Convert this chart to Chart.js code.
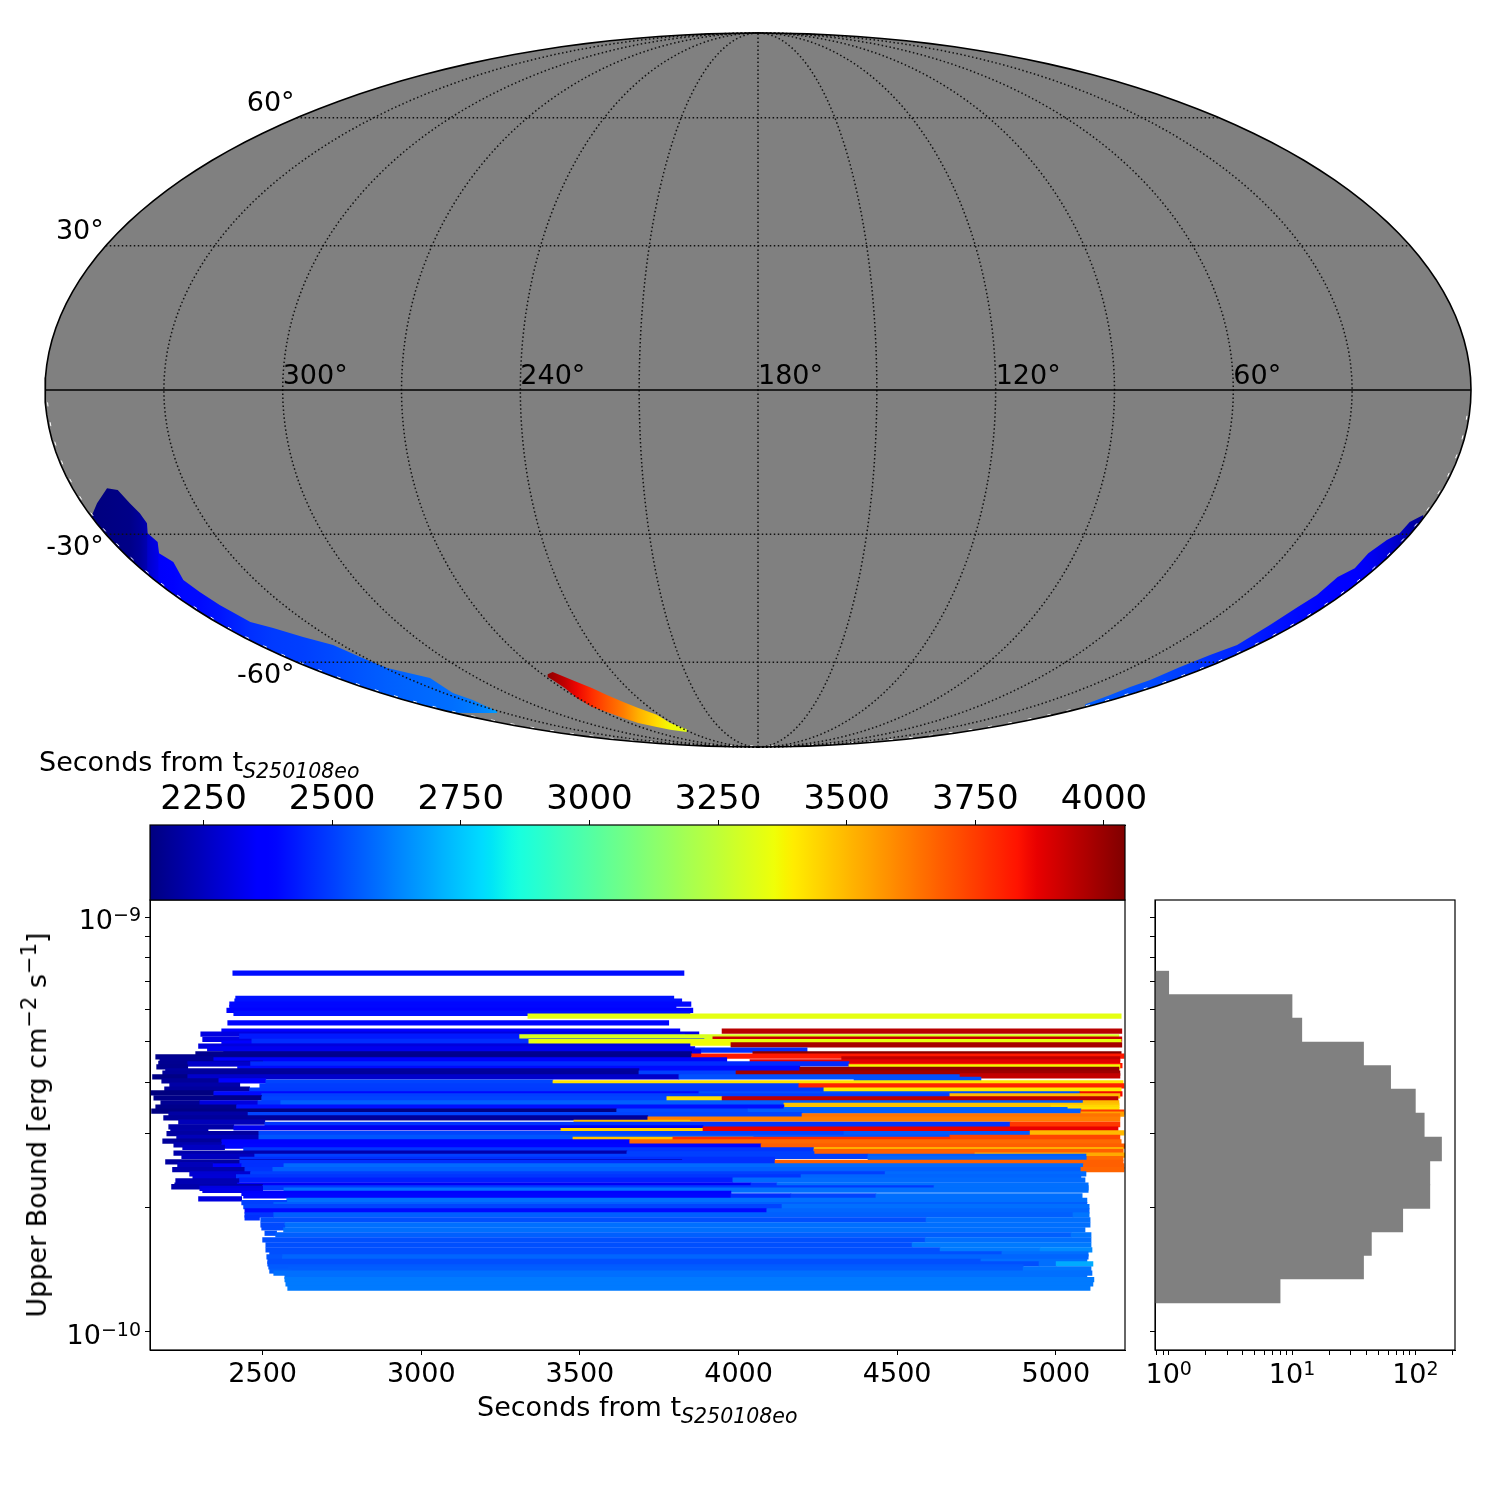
<!DOCTYPE html>
<html>
<head>
<meta charset="utf-8">
<title>S250108eo upper bounds</title>
<script src="https://cdn.jsdelivr.net/npm/chart.js@4"></script>
<style>
    html, body { margin: 0; background: #fff; }
    canvas { position: absolute; left: 0; top: 0; }
    .axis-title { position: absolute; font: 27px "DejaVu Sans"; white-space: nowrap; color: #000; line-height: 32px; }
    .axis-title i { font-size: 20.5px; position: relative; top: 7px; }
    .axis-title sup { font-size: 21px; line-height: 0; vertical-align: baseline; position: relative; top: -10px; }
</style>
</head>
<body>
<canvas id="mapChart" width="1500" height="1500"></canvas>
<canvas id="mainChart" width="1500" height="1500"></canvas>
<canvas id="barChart" width="1500" height="1500"></canvas>
<canvas id="histChart" width="1500" height="1500"></canvas>
<div class="axis-title" style="left:39px;top:746px">Seconds from t<i>S250108eo</i></div>
<div class="axis-title" style="left:477px;top:1391px">Seconds from t<i>S250108eo</i></div>
<div class="axis-title" style="left:37px;top:1125px;transform:translate(-50%,-50%) rotate(-90deg)">Upper Bound [erg cm<sup>&minus;2</sup> s<sup>&minus;1</sup>]</div>
<script>
// upper limit per tile, log10(erg cm-2 s-1), with start/end seconds and the time that picks its colour
const logUpper = [
    -9.135, -9.196, -9.203, -9.210, -9.218, -9.225, -9.232, -9.239, -9.255, -9.275,
    -9.275, -9.282, -9.295, -9.287, -9.289, -9.294, -9.304, -9.299, -9.300, -9.304,
    -9.308, -9.311, -9.318, -9.321, -9.325, -9.330, -9.330, -9.335, -9.337, -9.342,
    -9.342, -9.344, -9.349, -9.353, -9.354, -9.354, -9.358, -9.361, -9.361, -9.365,
    -9.367, -9.371, -9.376, -9.376, -9.376, -9.385, -9.385, -9.385, -9.383, -9.391,
    -9.395, -9.395, -9.398, -9.400, -9.405, -9.407, -9.407, -9.415, -9.417, -9.417,
    -9.424, -9.426, -9.426, -9.426, -9.431, -9.431, -9.436, -9.438, -9.438, -9.438, -9.448,
    -9.448, -9.448, -9.448, -9.448, -9.454, -9.458, -9.458, -9.459, -9.464, -9.464,
    -9.468, -9.468, -9.468, -9.470, -9.475, -9.475, -9.476, -9.479, -9.484, -9.487,
    -9.494, -9.495, -9.500, -9.500, -9.506, -9.508, -9.515, -9.511, -9.517, -9.522,
    -9.522, -9.522, -9.520, -9.531, -9.531, -9.531, -9.536, -9.536, -9.540, -9.542,
    -9.542, -9.549, -9.552, -9.552, -9.555, -9.561, -9.561, -9.565, -9.569, -9.571,
    -9.574, -9.577, -9.577, -9.577, -9.582, -9.582, -9.584, -9.590, -9.591, -9.591,
    -9.597, -9.600, -9.600, -9.600, -9.600, -9.609, -9.609, -9.609, -9.609, -9.619,
    -9.619, -9.619, -9.626, -9.626, -9.626, -9.634, -9.634, -9.636, -9.646, -9.646,
    -9.646, -9.646, -9.650, -9.653, -9.653, -9.654, -9.658, -9.659, -9.666, -9.672,
    -9.672, -9.672, -9.672, -9.679, -9.683, -9.688, -9.693, -9.698, -9.698, -9.708,
    -9.708, -9.718, -9.718, -9.718, -9.725, -9.730, -9.730, -9.742, -9.742, -9.749,
    -9.754, -9.762, -9.766, -9.766, -9.778, -9.778, -9.790, -9.790, -9.802, -9.802,
    -9.802, -9.812, -9.812, -9.819, -9.819, -9.830, -9.830, -9.836, -9.836, -9.836,
    -9.843, -9.848, -9.848, -9.853, -9.858, -9.866, -9.874, -9.884, -9.894
];
const startTimes = [
    2406, 2415, 2412, 2396, 2396, 2387, 2409, 3336, 2390, 2371,
    3948, 2305, 2311, 2427, 3310, 3919, 2371, 2466, 3339, 3364,
    3976, 2298, 2326, 3862, 2377, 2289, 4045, 3852, 2163, 2176,
    4325, 2346, 4036, 2172, 2264, 2462, 4348, 2166, 4348, 2421,
    4193, 2194, 2185, 3686, 3992, 2153, 2264, 3812, 4698, 4364,
    2182, 2362, 2510, 3415, 2207, 2491, 4190, 2191, 2459, 4269,
    2144, 2346, 3875, 5076, 2497, 4666, 2157, 2497, 3774, 3948, 2179,
    2302, 2485, 2557, 5086, 4143, 2163, 2418, 4985, 4143, 5038,
    2150, 3616, 4030, 5079, 5079, 2204, 2454, 4200, 2188, 3714,
    2235, 3481, 2507, 4856, 2204, 2409, 3440, 3888, 2210, 2198,
    2488, 4332, 4919, 2229, 2488, 4666, 3478, 3793, 2185, 2371,
    3657, 2220, 2371, 4071, 2248, 2440, 4238, 4238, 2220, 3648,
    4745, 2245, 2475, 4408, 4408, 5098, 2428, 2194, 2428, 4115,
    2232, 2344, 2434, 2567, 5087, 2216, 2444, 2532, 5079, 2270,
    2462, 4462, 2280, 2417, 4197, 2425, 3982, 2226, 2223, 2421,
    4039, 4121, 2213, 2500, 4616, 2302, 2567, 2311, 2434, 2440,
    3976, 4165, 4433, 2298, 2576, 2434, 2535, 2440, 4137, 2444,
    4089, 2444, 2535, 5054, 2444, 2494, 4591, 2494, 2570, 2497,
    2566, 2507, 2541, 5048, 2500, 4588, 2510, 4547, 2510, 4635,
    4950, 2522, 4830, 2513, 2563, 2516, 4764, 2516, 4947, 5001,
    2519, 2582, 4897, 2522, 2535, 2570, 2570, 2573, 2579
];
const endTimes = [
    3828, 3796, 3821, 3850, 3803, 3856, 3847, 5206, 3780, 3815,
    5208, 3875, 3790, 3830, 5199, 5208, 3689, 3891, 5206, 3976,
    5208, 3847, 3862, 4216, 3881, 3852, 5206, 5215, 3850, 3815,
    5202, 3963, 5202, 2500, 2462, 4348, 5209, 2264, 5202, 4193,
    5199, 3686, 3686, 3992, 5202, 2264, 3812, 4698, 5202, 4764,
    2362, 2510, 3415, 5212, 2428, 4190, 5215, 2459, 4269, 5206,
    2346, 3875, 5076, 5209, 4666, 5202, 2497, 3774, 3948, 5196, 2302,
    2485, 2557, 5086, 5199, 5199, 2418, 4143, 5199, 5038, 5199,
    3616, 4030, 5079, 5215, 5215, 2454, 4200, 5202, 3714, 5202,
    2507, 3847, 4856, 5202, 2409, 3888, 3888, 5196, 2328, 2488,
    4332, 4919, 5215, 2488, 4666, 5202, 4046, 4666, 2371, 3657,
    5206, 2371, 4071, 5218, 2380, 4238, 5212, 5212, 3648, 4238,
    5218, 2475, 4408, 5095, 5098, 5212, 4114, 3821, 4115, 5212,
    2344, 2434, 2567, 5087, 5215, 2444, 2532, 5095, 5215, 2462,
    4462, 5095, 2417, 4197, 5079, 3982, 5092, 2425, 2421, 4039,
    4121, 5102, 2500, 4616, 5102, 2500, 5102, 2500, 3976, 3976,
    4165, 4433, 5083, 2434, 5098, 2576, 5098, 4137, 5105, 4089,
    5105, 2535, 5054, 5105, 2490, 4591, 5108, 2570, 5108, 2570,
    5092, 2544, 5048, 5111, 4588, 5111, 4547, 5111, 4635, 4950,
    5114, 4830, 5102, 2563, 5102, 4764, 5098, 4947, 5001, 5117,
    4897, 4897, 5111, 2590, 5114, 5098, 5120, 5117, 5108
];
const colourTimes = [
    2406, 2415, 2412, 2396, 2396, 2387, 2409, 3336, 2390, 2371,
    3948, 2305, 2311, 2430, 3310, 3919, 2375, 2466, 3340, 3364,
    3976, 2298, 2326, 2470, 2330, 2170, 4030, 3820, 2165, 2180,
    3930, 2350, 3880, 2175, 2270, 2460, 3830, 2170, 3370, 2400,
    4010, 2200, 2190, 2500, 3990, 2155, 2270, 2530, 3930, 2530,
    2185, 2365, 2510, 3415, 2210, 2495, 3800, 2195, 2490, 3400,
    2146, 2400, 2530, 3850, 2500, 3500, 2160, 2510, 3430, 3940, 2180,
    2300, 2490, 2560, 3500, 3480, 2165, 2410, 3440, 2570, 3420,
    2152, 2520, 2560, 3760, 3550, 2205, 2510, 3640, 2190, 3620,
    2240, 3490, 2480, 3760, 2210, 2330, 3450, 3870, 2215, 2200,
    2510, 2550, 3500, 2240, 2540, 3730, 3480, 3780, 2190, 2385,
    3660, 2225, 2390, 3680, 2255, 2480, 3470, 3680, 2220, 2500,
    3530, 2250, 2500, 2560, 2570, 3660, 2470, 2200, 2470, 3680,
    2240, 2350, 2470, 2580, 3680, 2220, 2480, 2560, 3670, 2280,
    2500, 2580, 2285, 2480, 2570, 2440, 2580, 2230, 2230, 2340,
    2480, 2590, 2215, 2490, 2590, 2305, 2590, 2315, 2385, 2390,
    2470, 2510, 2590, 2300, 2590, 2500, 2560, 2510, 2590, 2400,
    2570, 2480, 2560, 2600, 2470, 2530, 2590, 2520, 2590, 2520,
    2590, 2530, 2560, 2600, 2530, 2590, 2530, 2610, 2530, 2610,
    2640, 2530, 2590, 2540, 2570, 2530, 2590, 2530, 2590, 2700,
    2550, 2555, 2600, 2560, 2590, 2590, 2610, 2610, 2610
];

// histogram of the upper limits
const histBinsLog = [-9.159, -9.2157, -9.2723, -9.3301, -9.3867, -9.4434, -9.5012, -9.559, -9.6169, -9.6735, -9.7301, -9.7867, -9.8434, -9.9012];
const histCounts = [1, 10, 12, 38, 63, 100, 118, 163, 131, 131, 79, 44, 38, 8];

// tick values
const upperTicks = [1e-10, 2e-10, 3e-10, 4e-10, 5e-10, 6e-10, 7e-10, 8e-10, 9e-10, 1e-9];
const countTicks = [0.8, 0.9, 1, 2, 3, 4, 5, 6, 7, 8, 9, 10, 20, 30, 40, 50, 60, 70, 80, 90, 100, 200];

// sky patches, as fractions of the map half width / half height
const leftSkyX = [-.934, -.927, -.913, -.898, -.881, -.867, -.857, -.856, -.842, -.840, -.820, -.806, -.783, -.755, -.712, -.680, -.638, -.596, -.558, -.520, -.460, -.428, -.400, -.379, -.366];
const leftSkyY = [-.350, -.317, -.275, -.280, -.317, -.345, -.373, -.401, -.426, -.457, -.482, -.532, -.566, -.602, -.650, -.667, -.692, -.714, -.748, -.779, -.807, -.849, -.868, -.888, -.899];
const leftSkyTime = [2146, 2146, 2150, 2155, 2160, 2190, 2230, 2270, 2320, 2350, 2385, 2395, 2400, 2420, 2470, 2490, 2500, 2520, 2540, 2560, 2580, 2590, 2610, 2640, 2680];

const rightSkyX = [.459, .494, .522, .550, .592, .634, .672, .718, .757, .784, .813, .837, .856, .882, .900, .914, .933];
const rightSkyY = [-.880, -.854, -.832, -.812, -.776, -.742, -.714, -.658, -.608, -.574, -.524, -.499, -.457, -.420, -.401, -.370, -.350];
const rightSkyTime = [2560, 2540, 2530, 2520, 2500, 2470, 2450, 2420, 2400, 2390, 2385, 2370, 2340, 2300, 2260, 2220, 2180];

const midSkyX = [-.295, -.288, -.271, -.254, -.233, -.212, -.189, -.168, -.142, -.123, -.100];
const midSkyTop = [-.796, -.790, -.804, -.818, -.835, -.854, -.874, -.891, -.910, -.933, -.950];
const midSkyBottom = [-.804, -.812, -.835, -.863, -.888, -.902, -.919, -.933, -.944, -.952, -.958];
const midSkyTime = [4020, 3990, 3930, 3860, 3780, 3700, 3620, 3520, 3430, 3370, 3330];

const meridians = [30, 60, 90, 120, 150, 180, 210, 240, 270, 300, 330];
const parallels = [-60, -30, 30, 60];
const lonLabels = [300, 240, 180, 120, 60];
const latLabels = [60, 30, -30, -60];

const colourMin = 2146;
const colourMax = 4041;
const colourTicks = [2250, 2500, 2750, 3000, 3250, 3500, 3750, 4000];
const secondTicks = [2500, 3000, 3500, 4000, 4500, 5000];

const GREY = '#808080';
const FONT = 'DejaVu Sans';

function piecewise(stops, v) {
    for (let i = 1; i < stops.length; i++) {
        if (v <= stops[i][0]) {
            const a = stops[i - 1], b = stops[i];
            return a[1] + (b[1] - a[1]) * (v - a[0]) / (b[0] - a[0]);
        }
    }
    return stops[stops.length - 1][1];
}

const jetR = [[0, 0], [.35, 0], [.66, 1], [.89, 1], [1, .5]];
const jetG = [[0, 0], [.125, 0], [.375, 1], [.64, 1], [.91, 0], [1, 0]];
const jetB = [[0, .5], [.11, 1], [.34, 1], [.65, 0], [1, 0]];

function jet(v) {
    v = Math.max(0, Math.min(1, v));
    const c = [jetR, jetG, jetB].map(s => Math.round(piecewise(s, v) * 255));
    return `rgb(${c[0]},${c[1]},${c[2]})`;
}

function timeColour(t) {
    return jet((t - colourMin) / (colourMax - colourMin));
}

function mollweideTheta(lat) {
    const rad = lat * Math.PI / 180;
    const target = Math.PI * Math.sin(rad);
    let t = rad;
    for (let i = 0; i < 40; i++) {
        t -= (2 * t + Math.sin(2 * t) - target) / (2 + 2 * Math.cos(2 * t));
    }
    return t;
}

// every canvas covers the page, the padding puts the plot box where it belongs
function box(left, top, right, bottom) {
    return { left, top, right: 1500 - right, bottom: 1500 - bottom };
}

function fixedWidth(w) {
    return s => { s.width = w; s.paddingTop = s.paddingBottom = 0; };
}

function fixedHeight(h) {
    return s => { s.height = h; s.paddingLeft = s.paddingRight = 0; };
}

function setTicks(values) {
    return s => { s.ticks = values.map(value => ({ value })); };
}

const frame = {
    id: 'frame',
    afterDraw(chart) {
        const a = chart.chartArea, ctx = chart.ctx;
        ctx.save();
        ctx.strokeStyle = '#000';
        ctx.lineWidth = 1.2;
        ctx.strokeRect(a.left, a.top, a.right - a.left, a.bottom - a.top);
        ctx.restore();
    }
};

// log tick labels need a real raised exponent, canvas ticks only give one font per label
function isPower(v) {
    const e = Math.log10(v);
    return Math.abs(e - Math.round(e)) < 1e-6;
}

function exponentText(v) {
    return String(Math.round(Math.log10(v))).replace('-', '\u2212');
}

const powerTicks = {
    id: 'powerTicks',
    afterDraw(chart, args, opts) {
        const ctx = chart.ctx, scale = chart.scales[opts.axis];
        ctx.save();
        ctx.fillStyle = '#000';
        ctx.textBaseline = 'alphabetic';
        ctx.textAlign = 'left';
        scale.ticks.forEach(t => {
            if (!isPower(t.value)) return;
            const exp = exponentText(t.value);
            ctx.font = '27px "' + FONT + '"';
            const baseWidth = ctx.measureText('10').width;
            ctx.font = '19px "' + FONT + '"';
            const expWidth = ctx.measureText(exp).width;
            const pos = scale.getPixelForValue(t.value);
            let x, y;
            if (opts.axis === 'y') {
                x = scale.right - 9 - baseWidth - expWidth;
                y = pos + 12;
            } else {
                x = pos - (baseWidth + expWidth) / 2;
                y = scale.top + 33;
            }
            ctx.font = '27px "' + FONT + '"';
            ctx.fillText('10', x, y);
            ctx.font = '19px "' + FONT + '"';
            ctx.fillText(exp, x + baseWidth, y - 8);
        });
        ctx.restore();
    }
};

const quiet = { legend: { display: false }, tooltip: { enabled: false } };

// ---- map
const mapSets = [];

function polyLine(points, colour, width, dash) {
    mapSets.push({
        data: points, showLine: true, pointRadius: 0, borderColor: colour,
        borderWidth: width, borderDash: dash || [], fill: false, clip: false
    });
}

function polygon(points, background) {
    mapSets.push({
        data: points, showLine: true, pointRadius: 0, borderWidth: 0,
        backgroundColor: background, fill: 'shape', clip: false
    });
}

const rimPoints = [];
for (let a = 0; a <= 360; a += 2) {
    const r = a * Math.PI / 180;
    rimPoints.push({ x: Math.cos(r), y: Math.sin(r) });
}
polyLine(rimPoints, '#000', 1.6);
polyLine([{ x: -1, y: 0 }, { x: 1, y: 0 }], '#000', 1.4);

parallels.forEach(lat => {
    const t = mollweideTheta(lat);
    polyLine([{ x: -Math.cos(t), y: Math.sin(t) }, { x: Math.cos(t), y: Math.sin(t) }], '#111', 1.5, [1.5, 2.5]);
});
meridians.forEach(lon => {
    const f = (180 - lon) / 180;
    const points = [];
    for (let a = -90; a <= 90; a += 2) {
        const r = a * Math.PI / 180;
        points.push({ x: f * Math.cos(r), y: Math.sin(r) });
    }
    polyLine(points, '#111', 1.5, [1.5, 2.5]);
});

// white specks where the pixel map stops short of the rim, lower half only
polyLine(rimPoints.filter(p => p.y < -0.001).map(p => ({ x: p.x * .997, y: p.y * .997 })), '#fff', 1, [4, 16]);

function rimBelow(x, floor) {
    return Math.max(-Math.sqrt(1 - x * x), floor);
}

function skyPatch(xs, tops, bottoms, times) {
    const points = xs.map((x, i) => ({ x, y: tops[i] }));
    for (let i = xs.length - 1; i >= 0; i--) points.push({ x: xs[i], y: bottoms[i] });
    points.push(points[0]);
    const first = xs[0], last = xs[xs.length - 1];
    polygon(points, c => {
        if (!c.chart.chartArea) return timeColour(times[0]);
        const sx = c.chart.scales.x;
        const g = c.chart.ctx.createLinearGradient(sx.getPixelForValue(first), 0, sx.getPixelForValue(last), 0);
        times.forEach((t, i) => g.addColorStop((xs[i] - first) / (last - first), timeColour(t)));
        return g;
    });
}

skyPatch(leftSkyX, leftSkyY, leftSkyX.map(x => rimBelow(x, -.905)), leftSkyTime);
skyPatch(rightSkyX, rightSkyY, rightSkyX.map(x => rimBelow(x, -1)), rightSkyTime);
skyPatch(midSkyX, midSkyTop, midSkyBottom, midSkyTime);

polygon(rimPoints, GREY);

const mapLabels = {
    id: 'mapLabels',
    afterDatasetsDraw(chart) {
        const ctx = chart.ctx, sx = chart.scales.x, sy = chart.scales.y;
        ctx.save();
        ctx.fillStyle = '#000';
        ctx.font = '27px "' + FONT + '"';
        ctx.textAlign = 'left';
        ctx.textBaseline = 'alphabetic';
        lonLabels.forEach(lon => {
            ctx.fillText(lon + '\u00b0', sx.getPixelForValue((180 - lon) / 180), sy.getPixelForValue(0) - 6);
        });
        ctx.textAlign = 'right';
        latLabels.forEach(lat => {
            const t = mollweideTheta(lat);
            ctx.textBaseline = lat > 0 ? 'bottom' : 'top';
            ctx.fillText(lat + '\u00b0', sx.getPixelForValue(-Math.cos(t)) - 2, sy.getPixelForValue(Math.sin(t)));
        });
        ctx.restore();
    }
};

new Chart(document.getElementById('mapChart'), {
    type: 'scatter',
    data: { datasets: mapSets },
    plugins: [mapLabels],
    options: {
        responsive: false,
        animation: false,
        layout: { padding: box(45, 33, 1471, 747) },
        plugins: quiet,
        scales: {
            x: { type: 'linear', min: -1, max: 1, display: false },
            y: { type: 'linear', min: -1, max: 1, display: false }
        }
    }
});

// ---- main panel
const upperMin = Math.pow(10, -10.0434);
const upperMax = Math.pow(10, -8.959);
const plainNumber = v => String(v);

new Chart(document.getElementById('mainChart'), {
    type: 'bar',
    data: {
        datasets: [{
            data: logUpper.map((v, i) => ({ x: [startTimes[i], endTimes[i]], y: Math.pow(10, v) })),
            backgroundColor: colourTimes.map(timeColour),
            barThickness: 4.6,
            grouped: false
        }]
    },
    plugins: [frame, powerTicks],
    options: {
        indexAxis: 'y',
        responsive: false,
        animation: false,
        layout: { padding: { left: 0, top: 900, right: 375, bottom: 0 } },
        plugins: Object.assign({ powerTicks: { axis: 'y' } }, quiet),
        scales: {
            x: {
                type: 'linear', min: 2145, max: 5218,
                afterFit: fixedHeight(150),
                afterBuildTicks: setTicks(secondTicks),
                grid: { drawOnChartArea: false, tickLength: 5, tickColor: '#000' },
                border: { color: '#000' },
                ticks: { color: '#000', font: { family: FONT, size: 27 }, maxRotation: 0, autoSkip: false, padding: 4, callback: plainNumber }
            },
            y: {
                type: 'logarithmic', min: upperMin, max: upperMax, offset: false,
                afterFit: fixedWidth(150),
                afterBuildTicks: setTicks(upperTicks),
                grid: { offset: false, drawOnChartArea: false, tickLength: 5, tickColor: '#000' },
                border: { color: '#000' },
                ticks: { color: '#000', autoSkip: false, callback: () => '' }
            }
        }
    }
});

// ---- colour bar
new Chart(document.getElementById('barChart'), {
    type: 'bar',
    data: {
        labels: ['t'],
        datasets: [{
            data: [[colourMin, colourMax]],
            barPercentage: 1,
            categoryPercentage: 1,
            inflateAmount: 0,
            backgroundColor(c) {
                const a = c.chart.chartArea;
                if (!a) return '#000';
                const g = c.chart.ctx.createLinearGradient(a.left, 0, a.right, 0);
                for (let i = 0; i <= 100; i++) g.addColorStop(i / 100, jet(i / 100));
                return g;
            }
        }]
    },
    plugins: [frame],
    options: {
        indexAxis: 'y',
        responsive: false,
        animation: false,
        layout: { padding: { left: 150, top: 0, right: 375, bottom: 600 } },
        plugins: quiet,
        scales: {
            x: {
                type: 'linear', position: 'top', min: colourMin, max: colourMax,
                afterFit: fixedHeight(825),
                afterBuildTicks: setTicks(colourTicks),
                grid: { drawOnChartArea: false, tickLength: 5, tickColor: '#000' },
                border: { color: '#000' },
                ticks: { color: '#000', font: { family: FONT, size: 34 }, maxRotation: 0, autoSkip: false, padding: -1, callback: plainNumber }
            },
            y: { display: false }
        }
    }
});

// ---- histogram
new Chart(document.getElementById('histChart'), {
    type: 'bar',
    data: {
        datasets: [{
            data: histCounts.map((n, i) => ({ x: n, y: Math.pow(10, histBinsLog[i]) })),
            backgroundColor: GREY,
            barThickness: 23.7,
            grouped: false
        }]
    },
    plugins: [frame, powerTicks],
    options: {
        indexAxis: 'y',
        responsive: false,
        animation: false,
        layout: { padding: { left: 0, top: 900, right: 45, bottom: 0 } },
        plugins: Object.assign({ powerTicks: { axis: 'x' } }, quiet),
        scales: {
            x: {
                type: 'logarithmic', min: 0.774, max: 209.6,
                afterFit: fixedHeight(150),
                afterBuildTicks: setTicks(countTicks),
                grid: { drawOnChartArea: false, tickLength: 5, tickColor: '#000' },
                border: { color: '#000' },
                ticks: { color: '#000', autoSkip: false, maxRotation: 0, callback: () => '' }
            },
            y: {
                type: 'logarithmic', min: upperMin, max: upperMax, offset: false,
                afterFit: fixedWidth(1155),
                afterBuildTicks: setTicks(upperTicks),
                grid: { offset: false, drawOnChartArea: false, tickLength: 5, tickColor: '#000' },
                border: { color: '#000' },
                ticks: { color: '#000', autoSkip: false, callback: () => '' }
            }
        }
    }
});
</script>
</body>
</html>
